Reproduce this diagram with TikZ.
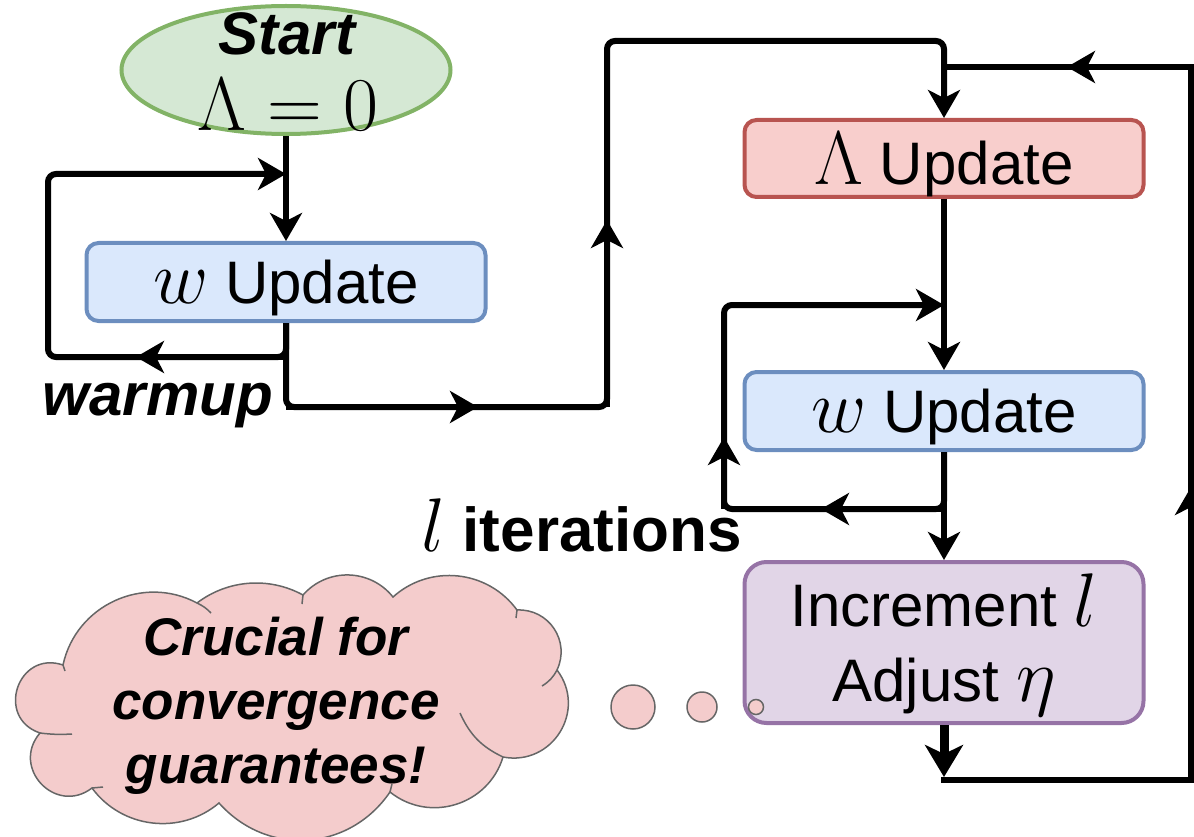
\RequirePackage{fix-cm}
\documentclass[tikz,border=0pt]{standalone}
\usepackage{fontspec}
\setmainfont{Liberation Sans}
\usetikzlibrary{arrows.meta,shapes.geometric}
\definecolor{gfill}{HTML}{D5E8D4}\definecolor{gline}{HTML}{82B366}
\definecolor{bfill}{HTML}{DAE8FC}\definecolor{bline}{HTML}{6C8EBF}
\definecolor{rfill}{HTML}{F8CECC}\definecolor{rline}{HTML}{B85450}
\definecolor{pfill}{HTML}{E1D5E7}\definecolor{pline}{HTML}{9673A6}
\definecolor{cfill}{HTML}{F4CCCC}\definecolor{cline}{HTML}{666666}
\newcommand\mth[1]{{\fontsize{76}{76}\selectfont$#1$}}
\tikzset{
  conn/.style={line width=6pt, rounded corners=8pt},
  tip/.style={-{Stealth[length=28pt,width=32pt,inset=8pt]}},
  arr/.style={line width=6pt, tip},
  box/.style={rectangle, rounded corners=12pt, line width=4pt, minimum width=399pt,
    minimum height=78pt, inner sep=0pt, font=\fontsize{60}{75}\selectfont, text depth=0pt},
  bubble/.style={circle, fill=cfill, draw=cline, line width=1.5pt, inner sep=0pt},
}
\begin{document}
\begin{tikzpicture}[x=1pt,y=1pt]
\useasboundingbox (0,0) rectangle (1194,-837);
% cloud
\draw[fill=cfill, draw=cline, line width=1.5pt]
  (63,-665) to[bend left=53,looseness=1.06] (197,-603)
  to[bend left=33,looseness=0.93] (303,-595)
  to[bend left=50,looseness=1.04] (393,-597)
  to[bend left=48,looseness=1.02] (517,-610)
  to[bend left=59,looseness=1.13] (557,-670)
  to[bend left=69,looseness=1.26] (503,-757)
  to[bend left=56,looseness=1.09] (390,-792)
  to[bend left=52,looseness=1.08] (219,-803)
  to[bend left=47,looseness=1.01] (92,-788)
  to[bend left=84,looseness=1.54] (40,-733)
  to[bend left=90,looseness=1.7] (63,-665) -- cycle;
\begin{scope}[draw=cline, line width=1.5pt]
  \draw (197,-603) to[bend left=10] (211,-613);
  \draw (303,-595) -- (302,-604);
  \draw (517,-610) -- (516,-618);
  \draw (557,-670) to[bend left=15] (542,-686);
  \draw (503,-757) to[bend left=20] (460,-713);
  \draw (390,-792) -- (392,-784);
  \draw (92,-788) -- (103,-787);
  \draw (40,-733) to[bend right=5] (72,-734);
  \draw (63,-665) -- (65,-671);
\end{scope}
\node[align=center, font=\fontsize{53}{64}\selectfont\bfseries\itshape] (crucial) at (276,-706)
  {Crucial for\\convergence\\guarantees!};

% nodes
\node[ellipse, draw=gline, fill=gfill, line width=4pt, minimum width=329pt,
  minimum height=128pt, inner sep=0pt] (start) at (286,-70) {};
\node[align=center, font=\fontsize{60}{76}\selectfont] (starttext) at (288,-72)
  {\textbf{\textit{Start}}\\\mth{\Lambda=0}};
\node[box, fill=bfill, draw=bline] (w1) at (286,-282) {\mth{w} Update};
\node[box, fill=rfill, draw=rline, minimum height=77pt] (lam) at (944,-158.5) {\mth{\Lambda} Update};
\node[box, fill=bfill, draw=bline] (w2) at (944,-411) {\mth{w} Update};
\node[box, fill=pfill, draw=pline, minimum height=161pt, rounded corners=22pt, align=center,
  text depth=10pt] (inc) at (944,-642.5) {Increment \mth{l}\\Adjust \mth{\eta}};

\node[bubble, minimum size=44pt] (b1) at (633,-707) {};
\node[bubble, minimum size=30pt] (b2) at (702,-707) {};
\node[bubble, minimum size=15pt] (b3) at (756,-707) {};

% labels
\node[anchor=base east, inner sep=0pt, font=\fontsize{60}{72}\selectfont\bfseries\itshape]
  (warm) at (273,-415) {warmup};
\node[anchor=base east, inner sep=0pt, font=\fontsize{62}{72}\selectfont\bfseries]
  (iter) at (742,-551) {\mth{l} iterations};

% coordinates
\coordinate (wa) at (286,-357); \coordinate (wb) at (48,-357);
\coordinate (wc) at (48,-174);  \coordinate (wd) at (286,-174);
\coordinate (ea) at (286,-407); \coordinate (eb) at (607,-407);
\coordinate (ec) at (607,-41);  \coordinate (ed) at (944,-41);
\coordinate (ia) at (944,-509); \coordinate (ib) at (724,-509);
\coordinate (ic) at (724,-305); \coordinate (id) at (944,-305);
\coordinate (ra) at (944,-777); \coordinate (r0) at (941,-780);
\coordinate (rb) at (1191,-780); \coordinate (rc) at (1191,-67);
\coordinate (rd) at (944,-67);

% connectors
\draw[arr] (start.south) -- (w1.north);
\draw[conn, tip] (w1.south) -- (wa) -- (wb) -- (wc) -- (wd);
\draw[arr] (wa) -- (136,-357);
\draw[conn, tip] (w1.south) -- (ea) -- (eb) -- (ec) -- (ed) -- (lam.north);
\draw[arr] (ea) -- (478,-407);
\draw[arr] (eb) -- (607,-220);
\draw[arr] (lam.south) -- (w2.north);
\draw[conn, tip] (w2.south) -- (ia) -- (ib) -- (ic) -- (id);
\draw[arr] (ia) -- (821,-509);
\draw[arr] (ib) -- (724,-437);
\draw[arr] (w2.south) -- (inc.north);
\draw[line width=9pt, -{Stealth[length=32pt,width=38pt,inset=9pt]}] (inc.south) -- (ra);
\draw[line width=6pt] (r0) -- (rb) -- (rc) -- (rd);
\draw[arr] (rb) -- (1191,-487);
\draw[arr] (rc) -- (1067,-67);
\end{tikzpicture}
\end{document}
